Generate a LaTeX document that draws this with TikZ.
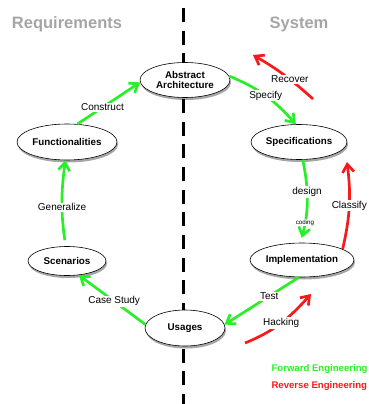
\documentclass[tikz,border=0pt]{standalone}
\usepackage{fontspec}
\setmainfont{Liberation Sans}
\usetikzlibrary{shapes.geometric,arrows.meta,shadows}
\definecolor{fgreen}{RGB}{40,240,40}
\definecolor{rred}{RGB}{250,25,25}
\definecolor{titlegray}{RGB}{165,165,165}
\tikzset{
  stage/.style={ellipse,draw=black,line width=0.6pt,fill=white,inner sep=0pt,
    font=\fontsize{9.8}{11}\selectfont\bfseries,align=center,
    drop shadow={shadow xshift=1pt,shadow yshift=-2.5pt,fill=black,opacity=0.35}},
  fwd/.style={draw=fgreen,line width=2.7pt,-{Straight Barb[length=8pt,width=11.5pt]}},
  rev/.style={draw=rred,line width=2.7pt,-{Straight Barb[length=8pt,width=11.5pt]}},
  lbl/.style={fill=white,inner sep=1pt,font=\fontsize{10}{12}\selectfont},
  tinylbl/.style={fill=white,inner sep=0.5pt,font=\fontsize{6.2}{7}\selectfont},
  title/.style={text=titlegray,font=\fontsize{16.5}{19}\selectfont\bfseries},
  legend/.style={anchor=west,font=\fontsize{9.6}{11}\selectfont\bfseries},
}
\begin{document}
\begin{tikzpicture}[x=1pt,y=-1pt]
\useasboundingbox (0,0) rectangle (368,404);
% divider
\coordinate (dtop) at (183,8);
\coordinate (dbot) at (183,404);
\draw[line width=3pt,dash pattern=on 14pt off 8.7pt] (dtop) -- (dbot);
% titles
\node[title] (treq) at (67,24) {Requirements};
\node[title] (tsys) at (299,24) {System};
% stages
\node[stage,minimum width=90pt,minimum height=35pt] (AA) at (185,80) {Abstract\\[-1pt]Architecture};
\node[stage,minimum width=100pt,minimum height=36pt] (F) at (67,142) {Functionalities};
\node[stage,minimum width=96pt,minimum height=35pt] (Sp) at (299,142) {Specifications};
\node[stage,minimum width=78pt,minimum height=29pt] (Sc) at (67,261) {Scenarios};
\node[stage,minimum width=104pt,minimum height=34pt] (Im) at (302,260) {Implementation};
\node[stage,minimum width=80pt,minimum height=36pt] (U) at (185,328) {Usages};
% forward engineering
\draw[fwd] (F.60) -- node[lbl,pos=0.4] {Construct} (AA.183);
\draw[fwd] (AA.5) to[out=-22,in=132] node[lbl,pos=0.5] {Specify} (Sp.100);
\draw[fwd,shorten <=6pt] (Sc.95) to[bend left=8] node[lbl,pos=0.45] {Generalize} (F.-95);
\draw[fwd,shorten >=5pt] (Sp.-78) to[bend left=13]
   node[lbl,pos=0.38] {design} node[tinylbl,pos=0.77] {coding} (Im.95);
\draw[fwd] (U.175) -- node[lbl,pos=0.47] {Case Study} (Sc.-50);
\draw[fwd] (Im.-100) -- node[lbl,pos=0.4] {Test} (U.5);
% reverse engineering
\coordinate (rec1) at (313,99);
\coordinate (rec2) at (253,55);
\draw[rev] (rec1) to[out=138,in=-30] node[lbl,pos=0.4] {Recover} (rec2);
\coordinate (cla2) at (347,162);
\draw[rev] (Im.15) to[bend right=10] node[lbl] {Classify} (cla2);
\coordinate (hac1) at (245,343);
\coordinate (hac2) at (311,294);
\draw[rev] (hac1) to[out=22,in=-132] node[lbl,pos=0.5] {Hacking} (hac2);
% legend
\node[legend,text=fgreen] (lf) at (268,369) {Forward Engineering};
\node[legend,text=rred] (lr) at (268,386) {Reverse Engineering};
\end{tikzpicture}
\end{document}
